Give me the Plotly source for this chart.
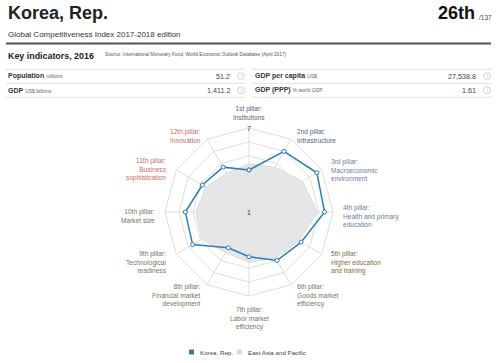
import math
import plotly.graph_objects as go

# ---------------- data ----------------
country = "Korea, Rep."
rank = "26th"
rank_total = "/137"
pillars = [
    "1st pillar:<br>Institutions",
    "2nd pillar:<br>Infrastructure",
    "3rd pillar:<br>Macroeconomic<br>environment",
    "4th pillar:<br>Health and primary<br>education",
    "5th pillar:<br>Higher education<br>and training",
    "6th pillar:<br>Goods market<br>efficiency",
    "7th pillar:<br>Labor market<br>efficiency",
    "8th pillar:<br>Financial market<br>development",
    "9th pillar:<br>Technological<br>readiness",
    "10th pillar:<br>Market size",
    "11th pillar:<br>Business<br>sophistication",
    "12th pillar:<br>Innovation",
]
korea_scores = [4.0, 6.0, 6.6, 6.4, 5.3, 5.0, 4.2, 3.95, 5.65, 5.55, 4.85, 4.7]
region_scores = [4.45, 4.7, 5.4, 5.9, 5.1, 4.8, 4.6, 4.35, 4.9, 4.8, 4.55, 4.2]
series_names = ["Korea, Rep.", "East Asia and Pacific"]
radial_ticks = [1, 2, 3, 4, 5, 6, 7]
indicator_names = ["Population", "GDP", "GDP per capita", "GDP (PPP)"]
indicator_units = ["millions", "US$ billions", "US$", "% world GDP"]
indicator_values = ["51.2", "1,411.2", "27,538.8", "1.61"]

# ---------------- styling / layout ----------------
W, H = 500, 363
FONT = "Liberation Sans, Arial, sans-serif"
BLUE = "#2f7cbb"
label_colors = ["#566479", "#566479", "#6a7e9c", "#6a7e9c", "#7d6f3a", "#7a745f",
                "#7a745f", "#7a745f", "#7a745f", "#7a745f", "#c0706c", "#c0706c"]

CX, CY, R = 249, 212, 84  # polar center / radius in pixels


def px(x):
    return x / W


def py(y):
    return 1 - y / H


fig = go.Figure()
theta = list(range(len(pillars)))
cats = [f"p{i}" for i in theta]

fig.add_trace(go.Scatterpolar(
    r=region_scores + region_scores[:1], theta=cats + cats[:1], mode="lines",
    fill="toself", fillcolor="#e6e6e6", line=dict(color="#d6d6d6", width=0.8),
    name=series_names[1], hoverinfo="skip", showlegend=False))
fig.add_trace(go.Scatterpolar(
    r=korea_scores + korea_scores[:1], theta=cats + cats[:1], mode="lines+markers",
    line=dict(color=BLUE, width=1.5),
    marker=dict(size=4, color="white", line=dict(color=BLUE, width=1)),
    name=series_names[0], showlegend=False))

fig.update_layout(
    width=W, height=H, margin=dict(l=0, r=0, t=0, b=0),
    paper_bgcolor="white", plot_bgcolor="white",
    font=dict(family=FONT),
    polar=dict(
        domain=dict(x=[px(CX - R), px(CX + R)], y=[py(CY + R), py(CY - R)]),
        bgcolor="rgba(0,0,0,0)",
        gridshape="linear",
        radialaxis=dict(range=[1, 7], tickvals=radial_ticks, showticklabels=False,
                        showline=False, gridcolor="#dedede", gridwidth=1, ticks="",
                        layer="above traces"),
        angularaxis=dict(direction="clockwise", rotation=90, categoryarray=cats,
                         type="category", showticklabels=False, ticks="",
                         gridcolor="#dedede", linecolor="#dedede", linewidth=1,
                         layer="above traces"),
    ),
)

ann = []
shapes = []

# header
ann.append(dict(x=px(6), y=py(13), text=f"<b>{country}</b>", xanchor="left", yanchor="middle",
                font=dict(size=18, color="#222")))
ann.append(dict(x=px(477), y=py(13), text=f"<b>{rank}</b>", xanchor="right", yanchor="middle",
                font=dict(size=18, color="#111")))
ann.append(dict(x=px(477), y=py(17), text=rank_total, xanchor="left", yanchor="middle",
                font=dict(size=6.5, color="#444")))
ann.append(dict(x=px(6), y=py(34), text="Global Competitiveness Index 2017-2018 edition",
                xanchor="left", yanchor="middle", font=dict(size=8.0, color="#333")))
shapes.append(dict(type="line", xref="paper", yref="paper", x0=px(6), x1=px(491),
                   y0=py(43.5), y1=py(43.5), line=dict(color="#555", width=2)))
ann.append(dict(x=px(6), y=py(56.5), text="<b>Key indicators, 2016</b>", xanchor="left",
                yanchor="middle", font=dict(size=8.9, color="#222")))
ann.append(dict(x=px(103), y=py(55), text="Source: International Monetary Fund; World Economic Outlook Database (April 2017)",
                xanchor="left", yanchor="middle", font=dict(size=4.8, color="#555")))

# indicator table
for yline in (69.3, 83.3, 97.3):
    for x0, x1 in ((6, 245), (252, 492)):
        shapes.append(dict(type="line", xref="paper", yref="paper", x0=px(x0), x1=px(x1),
                           y0=py(yline), y1=py(yline), line=dict(color="#e2e2e2", width=1)))
cols = [(6, 232, 241), (6, 232, 241), (253, 478, 487), (253, 478, 487)]
rows = [76.3, 90.3, 76.3, 90.3]
for i in range(len(indicator_names)):
    xl, xv, xc = cols[i]
    yy = rows[i]
    ann.append(dict(x=px(xl), y=py(yy),
                    text=f"<b>{indicator_names[i]}</b> <span style='font-size:5px;color:#666'>{indicator_units[i]}</span>",
                    xanchor="left", yanchor="middle", font=dict(size=7, color="#333")))
    ann.append(dict(x=px(xv), y=py(yy), text=indicator_values[i], xanchor="right",
                    yanchor="middle", font=dict(size=7.2, color="#444")))
    shapes.append(dict(type="circle", xref="paper", yref="paper", x0=px(xc - 3.5), x1=px(xc + 3.5),
                       y0=py(yy + 3.5), y1=py(yy - 3.5), line=dict(color="#c8c8c8", width=0.8)))
    ann.append(dict(x=px(xc), y=py(yy), text="i", xanchor="center", yanchor="middle",
                    font=dict(size=4.5, color="#bbb")))

# pillar labels around the radar
LR = 92
n = len(pillars)
for i, lab in enumerate(pillars):
    ang = math.radians(i * 360 / n)
    sx, sy = math.sin(ang), -math.cos(ang)
    x = CX + LR * sx
    y = CY + LR * sy
    if abs(sx) < 0.01:
        xa = "center"
        if sy < 0:
            ya, ys = "bottom", -3
        else:
            ya, ys = "top", 0
        al = "center"
    else:
        xa = "left" if sx > 0 else "right"
        al = xa
        ya, ys = "middle", -4
    ann.append(dict(x=px(x), y=py(y), text=lab, xanchor=xa, yanchor=ya, align=al, yshift=ys,
                    font=dict(size=6.6, color=label_colors[i])))

# radial axis end labels
for v in (radial_ticks[0], radial_ticks[-1]):
    yv = CY - (v - radial_ticks[0]) / (radial_ticks[-1] - radial_ticks[0]) * R
    ann.append(dict(x=px(CX), y=py(yv), text=str(v), xanchor="center", yanchor="middle",
                    font=dict(size=7, color="#333")))

# legend
leg_y = 352
leg_items = [(189, 198, BLUE), (237, 246, "#d9d9d9")]
for (xs, xt, col), name in zip(leg_items, series_names):
    shapes.append(dict(type="rect", xref="paper", yref="paper", x0=px(xs), x1=px(xs + 5),
                       y0=py(leg_y + 2.5), y1=py(leg_y - 2.5), fillcolor=col, line=dict(width=0)))
    ann.append(dict(x=px(xt), y=py(leg_y), text=name, xanchor="left", yanchor="middle",
                    font=dict(size=6.2, color="#444")))

for a in ann:
    a.setdefault("xref", "paper")
    a.setdefault("yref", "paper")
    a.setdefault("showarrow", False)
fig.update_layout(annotations=ann, shapes=shapes)

fig.write_html("out.html", config={"displayModeBar": False},
               post_script="document.body.style.margin='0';document.body.style.overflow='hidden';")
